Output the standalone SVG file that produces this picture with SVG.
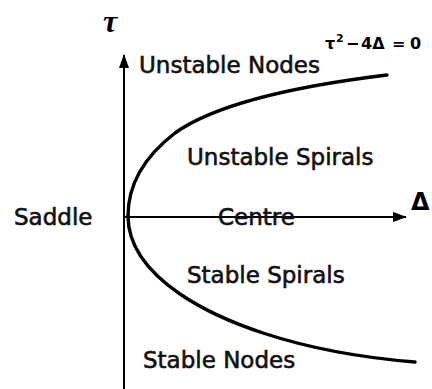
<svg xmlns="http://www.w3.org/2000/svg" width="432" height="389" viewBox="0 0 432 389">
<style>
.lbl{font-family:"DejaVu Sans",Verdana,sans-serif;font-size:23px;fill:#111;stroke:#111;stroke-width:0.6}
.axis{stroke:#000;stroke-width:2;fill:none}
.curve{stroke:#000;stroke-width:3.4;fill:none;stroke-linecap:round}
.fm{font-family:"DejaVu Sans",sans-serif;font-weight:bold;font-size:16px;fill:#000}
</style>
<defs>
<marker id="ah" viewBox="0 0 14 10" refX="13" refY="5" markerWidth="14" markerHeight="10" markerUnits="userSpaceOnUse" orient="auto">
<path d="M0,0 L14,5 L0,10 Z" fill="#000"/>
</marker>
</defs>
<rect width="432" height="389" fill="#fff"/>
<g id="connectors">
<line class="axis" x1="124" y1="389" x2="124" y2="55" marker-end="url(#ah)"/>
<line class="axis" x1="124" y1="217" x2="406" y2="217" marker-end="url(#ah)"/>
<path class="curve" d="M128,216 C128,190 140,160 175,133 C210,108 280,88 387,75"/>
<path class="curve" d="M128,216 C128,245 145,270 180,294 C215,318 290,352 415,362"/>
</g>
<g id="tau-label"><text x="103" y="32" font-family="Liberation Serif,serif" font-weight="bold" font-style="italic" font-size="32" fill="#000">τ</text></g>
<g id="delta-label"><text x="411" y="210" font-family="DejaVu Sans,sans-serif" font-weight="bold" font-size="24" fill="#000">Δ</text></g>
<g id="formula"><text class="fm" y="49"><tspan x="325">τ</tspan><tspan x="336" y="42" font-size="11">2</tspan><tspan x="346" y="49">−</tspan><tspan x="361">4Δ</tspan><tspan x="392">=</tspan><tspan x="410">0</tspan></text></g>
<g id="unstable-nodes"><text class="lbl" x="139" y="73">Unstable Nodes</text></g>
<g id="unstable-spirals"><text class="lbl" x="187" y="165">Unstable Spirals</text></g>
<g id="saddle"><text class="lbl" x="14" y="225" font-size="25">Saddle</text></g>
<g id="centre"><text class="lbl" x="218" y="225">Centre</text></g>
<g id="stable-spirals"><text class="lbl" x="187" y="283">Stable Spirals</text></g>
<g id="stable-nodes"><text class="lbl" x="143" y="368">Stable Nodes</text></g>
</svg>
